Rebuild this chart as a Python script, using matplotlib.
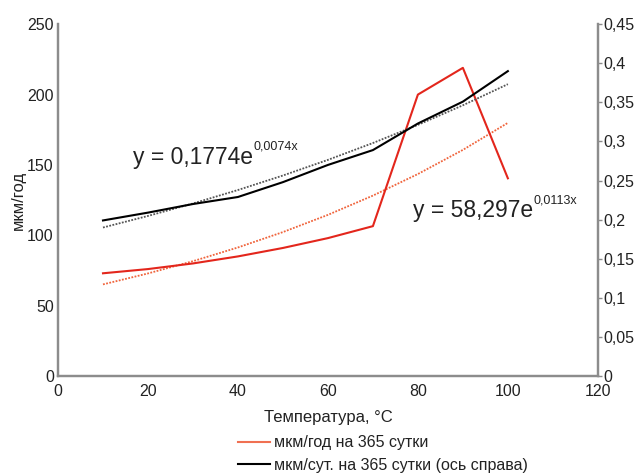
import numpy as np
import matplotlib.pyplot as plt
from matplotlib.ticker import FuncFormatter

# temperature, °C
temperature = [10, 20, 30, 40, 50, 60, 70, 80, 90, 100]
# мкм/год на 365 сутки (left axis)
rate_year = [73, 76, 80, 85, 91, 98, 106.5, 200, 219, 140.5]
# мкм/сут. на 365 сутки (right axis)
rate_day = [0.199, 0.209, 0.220, 0.229, 0.248, 0.270, 0.289, 0.323, 0.351, 0.390]

plt.rcParams['font.family'] = ['Liberation Sans', 'DejaVu Sans']
RED = '#e3261c'
RED_TREND = '#f0643c'
RED_LEGEND = '#f07052'
GRAY = '#8c8c8c'

fig = plt.figure(figsize=(6.36, 4.75), dpi=100)
ax = fig.add_axes([0.0912, 0.2084, 0.8488, 0.7406])
ax2 = ax.twinx()

x = np.array(temperature)

# exponential trend lines (fit on log of values, like the spreadsheet trendline)
b_red, a_red = np.polyfit(x, np.log(rate_year), 1)
b_blk, a_blk = np.polyfit(x, np.log(rate_day), 1)

ax.plot(x, np.exp(a_red) * np.exp(b_red * x), color=RED_TREND, lw=1.3, ls=(0, (1, 0.8)))
ax.plot(x, rate_year, color=RED, lw=1.5, zorder=3)
ax2.plot(x, np.exp(a_blk) * np.exp(b_blk * x), color='#555555', lw=1.3, ls=(0, (1, 0.8)))
ax2.plot(x, rate_day, color='black', lw=1.5)

ax.set_xlim(0, 120)
ax.set_ylim(0, 250)
ax2.set_ylim(0, 0.45)
ax.set_xticks(range(0, 121, 20))
ax.set_yticks(range(0, 251, 50))
ax2.set_yticks(np.arange(0, 0.451, 0.05))
ax2.yaxis.set_major_formatter(FuncFormatter(lambda v, p: ('%g' % round(v, 2)).replace('.', ',')))

for a in (ax, ax2):
    a.spines['top'].set_visible(False)
    for s in ('left', 'right', 'bottom'):
        a.spines[s].set_color(GRAY)
        a.spines[s].set_linewidth(1.6)
ax.tick_params(axis='y', length=0, labelsize=11.5, colors='#222222', pad=3)
ax.tick_params(axis='x', length=0, labelsize=11.5, colors='#222222', pad=6)
ax2.tick_params(axis='y', length=3, width=1, color=GRAY, labelsize=11.5, labelcolor='#222222', pad=1)

ax.set_xlabel('Температура, °C', fontsize=12, color='#222222', labelpad=8)
ax.set_ylabel('мкм/год', fontsize=12, color='#222222', labelpad=1)

# trend equations
t1 = ax.text(16.7, 151, 'y = 0,1774e', fontsize=16.5, color='#222222', va='baseline')
ax.annotate('0,0074x', xy=(1, 0.68), xycoords=t1, fontsize=9, color='#222222', va='bottom')
t2 = ax2.text(78.9, 0.203, 'y = 58,297e', fontsize=16.5, color='#222222', va='baseline')
ax2.annotate('0,0113x', xy=(1, 0.68), xycoords=t2, fontsize=9, color='#222222', va='bottom')

h1, = ax.plot([], [], color=RED_LEGEND, lw=1.5)
h2, = ax.plot([], [], color='black', lw=1.5)
fig.legend([h1, h2], ['мкм/год на 365 сутки', 'мкм/сут. на 365 сутки (ось справа)'],
           loc='upper left', bbox_to_anchor=(0.374, 0.084), frameon=False,
           fontsize=11.5, handlelength=2.0, handletextpad=0.25, labelspacing=0.5,
           borderpad=0, borderaxespad=0, labelcolor='#222222')

fig.savefig('out.png', dpi=100)
